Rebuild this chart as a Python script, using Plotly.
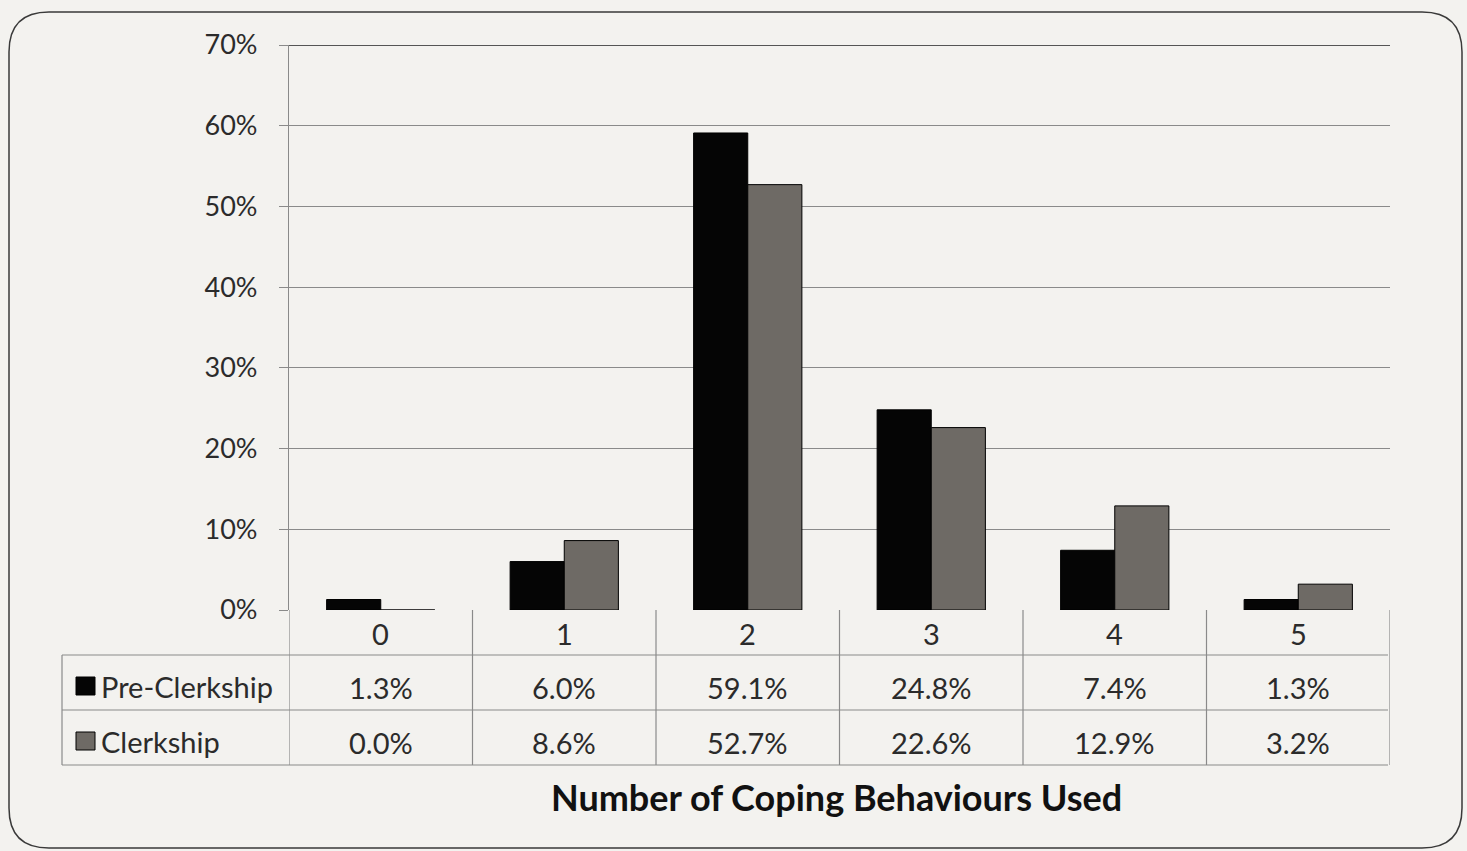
import plotly.graph_objects as go

categories = ["0", "1", "2", "3", "4", "5"]
pre_clerkship = [1.3, 6.0, 59.1, 24.8, 7.4, 1.3]
clerkship = [0.0, 8.6, 52.7, 22.6, 12.9, 3.2]
series_names = ["Pre-Clerkship", "Clerkship"]
y_ticks = [0, 10, 20, 30, 40, 50, 60, 70]
x_title = "Number of Coping Behaviours Used"

W, H = 1467, 851
L, R, T, B = 289, 1390, 45, 610
PW, PH = R - L, B - T
FONT = "Lato, Open Sans, sans-serif"
TXT = "#2b2b2b"
GRID = "#8a8a8a"
BG = "#f3f2ef"
GRAY = "#6e6a65"


def px(x):
    return (x - L) / PW


def py(y):
    return (B - y) / PH


xs = list(range(len(categories)))
fig = go.Figure()
fig.add_bar(x=xs, y=pre_clerkship, name=series_names[0], marker=dict(color="#050505", line=dict(color="#000", width=1)))
fig.add_bar(x=xs, y=clerkship, name=series_names[1], marker=dict(color=GRAY, line=dict(color="#000", width=1)))

shapes = []
annotations = []

# outer rounded border
x0, y0, x1, y1, r = px(9), py(12), px(1462), py(848), 40
rx, ry = r / PW, r / PH
path = (f"M {x0+rx},{y0} L {x1-rx},{y0} Q {x1},{y0} {x1},{y0-ry} "
        f"L {x1},{y1+ry} Q {x1},{y1} {x1-rx},{y1} L {x0+rx},{y1} "
        f"Q {x0},{y1} {x0},{y1+ry} L {x0},{y0-ry} Q {x0},{y0} {x0+rx},{y0} Z")
shapes.append(dict(type="path", xref="paper", yref="paper", path=path,
                   line=dict(color="#3a3a3a", width=1.5), layer="below"))

# top gridline at 70%
shapes.append(dict(type="line", xref="paper", yref="y", x0=0, x1=1, y0=70, y1=70,
                   line=dict(color="#555555", width=2)))

# data table lines
row_y = [610, 655, 710, 765]
line_style = dict(color="#8a8a8a", width=1.2)
for yy in row_y[1:]:
    shapes.append(dict(type="line", xref="paper", yref="paper", x0=px(62), x1=px(1388), y0=py(yy), y1=py(yy), line=line_style))
for i in range(len(categories) + 1):
    shapes.append(dict(type="line", xref="x", yref="paper", x0=i - 0.5, x1=i - 0.5,
                       y0=py(row_y[0]), y1=py(row_y[3]), line=line_style))
shapes.append(dict(type="line", xref="paper", yref="paper", x0=px(62), x1=px(62),
                   y0=py(row_y[1]), y1=py(row_y[3]), line=line_style))

# legend keys in table
key_colors = ["#050505", GRAY]
for k, (yc, col) in enumerate(zip([686, 741], key_colors)):
    shapes.append(dict(type="rect", xref="paper", yref="paper", x0=px(76), x1=px(95),
                       y0=py(yc - 9), y1=py(yc + 9), fillcolor=col, line=dict(color="#000", width=1)))
    annotations.append(dict(xref="paper", yref="paper", x=px(99), y=py(yc), text=series_names[k],
                            showarrow=False, xanchor="left", yanchor="middle",
                            font=dict(family=FONT, size=29, color=TXT)))

# category labels and values
for i, c in enumerate(categories):
    annotations.append(dict(xref="x", yref="paper", x=i, y=py(634), text=c, showarrow=False,
                            yanchor="middle", font=dict(family=FONT, size=29, color=TXT)))
    annotations.append(dict(xref="x", yref="paper", x=i, y=py(687), text=f"{pre_clerkship[i]:.1f}%",
                            showarrow=False, yanchor="middle", font=dict(family=FONT, size=29, color=TXT)))
    annotations.append(dict(xref="x", yref="paper", x=i, y=py(742), text=f"{clerkship[i]:.1f}%",
                            showarrow=False, yanchor="middle", font=dict(family=FONT, size=29, color=TXT)))

annotations.append(dict(xref="paper", yref="paper", x=px(836), y=py(797), text=f"<b>{x_title}</b>",
                        showarrow=False, yanchor="middle", font=dict(family=FONT, size=36, color="#111")))

fig.update_layout(
    width=W, height=H,
    margin=dict(l=L, r=W - R, t=T, b=H - B, pad=0),
    paper_bgcolor=BG, plot_bgcolor=BG,
    barmode="group", bargap=0.41, bargroupgap=0,
    showlegend=False,
    shapes=shapes, annotations=annotations,
    xaxis=dict(range=[-0.5, 5.5], showticklabels=False, showgrid=False, zeroline=False,
               showline=False, ticks="", fixedrange=True),
    yaxis=dict(range=[0, 70], tickvals=y_ticks, ticktext=[f"{v}%" for v in y_ticks],
               showgrid=True, gridcolor=GRID, gridwidth=1.2, zeroline=False,
               showline=True, linecolor="#8a8a8a", linewidth=1.2,
               ticks="outside", ticklen=9, tickcolor="#8a8a8a", ticklabelstandoff=16,
               tickfont=dict(family=FONT, size=27, color=TXT), fixedrange=True),
)

fig.write_html("out.html")
